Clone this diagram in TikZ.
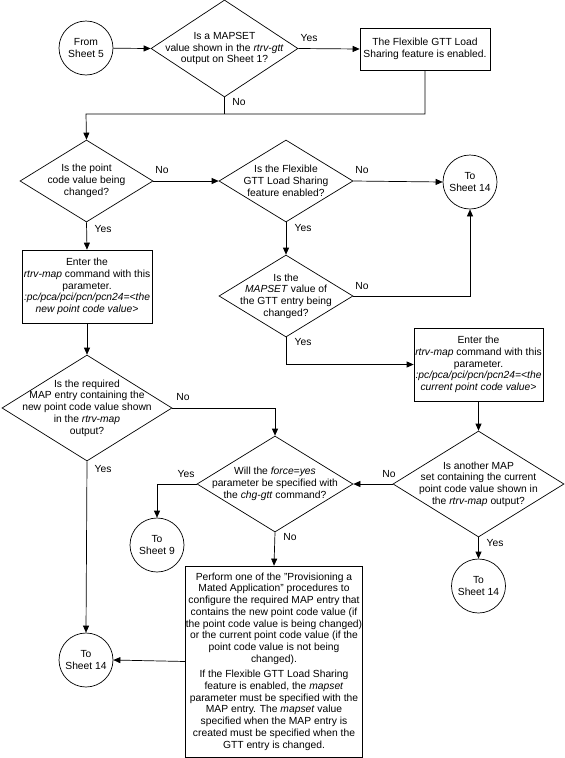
\documentclass[tikz,border=0pt]{standalone}
\usepackage{fontspec}
\setmainfont{Liberation Sans}
\usetikzlibrary{shapes.geometric,arrows.meta}
\tikzset{
  dia/.style 2 args={shape=diamond, draw, minimum width=#1, minimum height=#2, inner sep=0pt},
  txt/.style={align=center, inner sep=0pt},
  box/.style 2 args={draw, rectangle, minimum width=#1, minimum height=#2, inner sep=0pt, align=center},
  term/.style={draw, circle, minimum size=54pt, inner sep=0pt, align=center},
  arr/.style={-{Triangle[length=7pt,width=6pt]}},
  lbl/.style={inner sep=0pt}
}
\begin{document}
\begin{tikzpicture}[x=1pt,y=-1pt,line width=0.7pt,
  every node/.style={font=\fontsize{10.3}{11.7}\selectfont}]
\useasboundingbox (0,0) rectangle (565,758);
\fill[white] (0,0) rectangle (565,758);

% shapes
\node[term] (c0) at (86,48) {From\\Sheet 5};
\node[dia={147pt}{97pt}] (d1) at (224.5,48.5) {};
\node[txt] (d1t) at (d1.center) {Is a MAPSET\\value shown in the \textit{rtrv-gtt}\\output on Sheet 1?};
\node[box={130pt}{42pt}] (b1) at (425,49) {The Flexible GTT Load\\Sharing feature is enabled.};

\node[dia={133pt}{82pt}] (d2) at (86.5,181) {};
\node[txt] (d2t) at (d2.center) {Is the point\\code value being\\changed?};
\node[dia={134pt}{82pt}] (d3) at (286,181) {};
\node[txt] (d3t) at (d3.center) {Is the Flexible\\GTT Load Sharing\\feature enabled?};
\node[term] (c1) at (470,182) {To\\Sheet 14};

\node[box={130pt}{73pt}] (b2) at (87,286.5) {Enter the\\\textit{rtrv-map} command with this\\parameter.\\\textit{:pc/pca/pci/pcn/pcn24=<the}\\\textit{new point code value>}};
\node[dia={134pt}{82pt}] (d4) at (286,296) {};
\node[txt] (d4t) at (d4.center) {Is the\\\textit{MAPSET} value of\\the GTT entry being\\changed?};
\node[box={129pt}{73pt}] (b3) at (478.5,364.5) {Enter the\\\textit{rtrv-map} command with this\\parameter.\\\textit{:pc/pca/pci/pcn/pcn24=<the}\\\textit{current point code value>}};

\node[dia={170pt}{106pt}] (d5) at (87,408) {};
\node[txt] (d5t) at (d5.center) {Is the required\\MAP entry containing the\\new point code value shown\\in the \textit{rtrv-map}\\output?};
\node[dia={156pt}{96pt}] (d6) at (275,484) {};
\node[txt] (d6t) at (d6.center) {Will the \textit{force=yes}\\parameter be specified with\\the \textit{chg-gtt} command?};
\node[dia={171pt}{106pt}] (d7) at (478.5,484) {};
\node[txt] (d7t) at (d7.center) {Is another MAP\\set containing the current\\point code value shown in\\the \textit{rtrv-map} output?};

\node[term] (c2) at (157,545) {To\\Sheet 9};
\node[term] (c3) at (478.5,586) {To\\Sheet 14};
\node[box={174pt}{191pt}] (b4) at (274,661.5) {Perform one of the "Provisioning a\\Mated Application" procedures to\\configure the required MAP entry that\\contains the new point code value (if\\the point code value is being changed)\\or the current point code value (if the\\point code value is not being\\changed).\\[4pt]If the Flexible GTT Load Sharing\\feature is enabled, the \textit{mapset}\\parameter must be specified with the\\MAP entry. The \textit{mapset} value\\specified when the MAP entry is\\created must be specified when the\\GTT entry is changed.};
\node[term] (c4) at (86,660) {To\\Sheet 14};

% connectors
\coordinate (j1) at (86,114);
\draw[arr] (c0) -- (d1.west);
\draw[arr] (d1.east) -- (b1.west);
\draw (d1.south) -- (d1.south |- j1);
\draw[arr] (b1.south) |- (j1) -- (d2.north);
\draw[arr] (d2.east) -- (d3.west);
\draw[arr] (d3.east) -- (c1.west);
\draw[arr] (d2.south) -- (b2.north);
\draw[arr] (d3.south) -- (d4.north);
\draw[arr] (d4.east) -| (c1.south);
\draw[arr] (d4.south) |- (b3.west);
\draw[arr] (b2.south) -- (d5.north);
\draw[arr] (b3.south) -- (d7.north);
\draw[arr] (d5.east) -| (d6.north);
\draw[arr] (d7.west) -- (d6.east);
\draw[arr] (d6.west) -| (c2.north);
\draw[arr] (d6.south) -- (b4.north);
\draw[arr] (d7.south) -- (c3.north);
\draw[arr] (d5.south) -- (c4.north);
\draw[arr] (b4.west) -- (c4.east);

% labels
\node[lbl] (l1) at (309,38) {Yes};
\node[lbl] (l2) at (239,102) {No};
\node[lbl] (l3) at (162,170) {No};
\node[lbl] (l4) at (103,229) {Yes};
\node[lbl] (l5) at (362,170) {No};
\node[lbl] (l6) at (303,228) {Yes};
\node[lbl] (l7) at (362,286) {No};
\node[lbl] (l8) at (303,342) {Yes};
\node[lbl] (l9) at (183,397) {No};
\node[lbl] (l10) at (103,469) {Yes};
\node[lbl] (l11) at (186,474) {Yes};
\node[lbl] (l12) at (290,537) {No};
\node[lbl] (l13) at (389,474) {No};
\node[lbl] (l14) at (495,543) {Yes};
\end{tikzpicture}
\end{document}
